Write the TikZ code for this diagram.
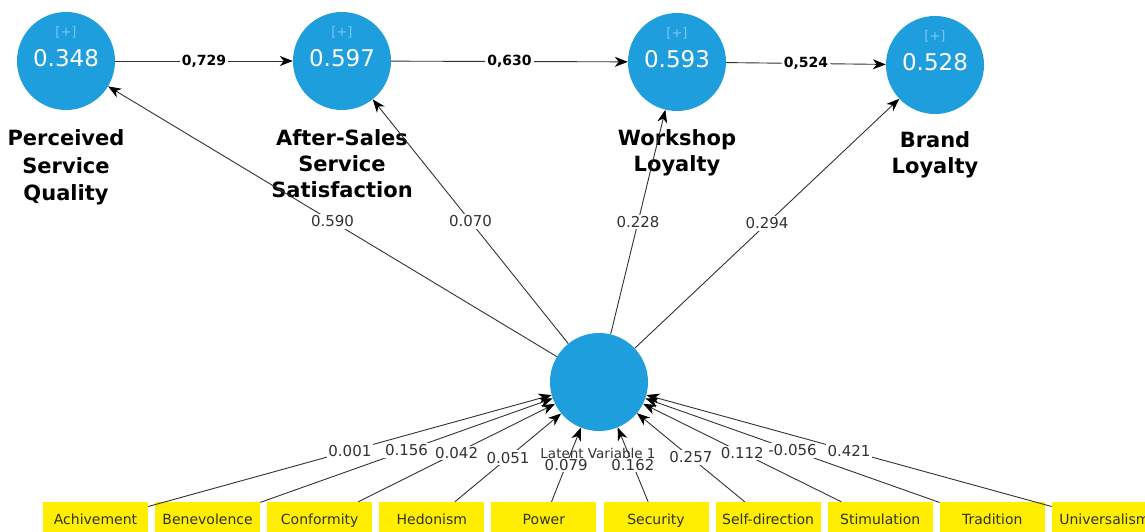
\documentclass[tikz,border=0pt]{standalone}
\usepackage{fontspec}
\setmainfont{DejaVu Sans}
\usetikzlibrary{arrows.meta}
\definecolor{lvblue}{RGB}{30,158,220}
\definecolor{plusblue}{RGB}{125,200,245}
\definecolor{boxyellow}{RGB}{255,238,0}
\definecolor{txtgray}{RGB}{50,50,50}
\begin{document}
\begin{tikzpicture}[x=1pt,y=-1pt,
 lv/.style={circle,fill=lvblue,minimum size=98pt,inner sep=0pt},
 val/.style={text=white,inner sep=0pt,font=\fontsize{23}{23}\selectfont},
 plus/.style={text=plusblue,inner sep=0pt,font=\fontsize{13}{13}\selectfont},
 title/.style={align=center,anchor=north,inner sep=0pt,font=\bfseries\fontsize{21}{26}\selectfont},
 ind/.style={rectangle,fill=boxyellow,minimum width=105pt,minimum height=38pt,inner sep=0pt,text height=10.5pt,text depth=3pt,text=txtgray,font=\fontsize{14}{14}\selectfont},
 conn/.style={draw=txtgray,line width=0.9pt,-{Stealth[length=13pt,width=10pt,inset=4pt,color=black,fill=black]}},
 wlab/.style={fill=white,inner sep=1.5pt,text=txtgray,font=\fontsize{15}{15}\selectfont},
 plab/.style={fill=white,inner sep=2pt,text=black,font=\bfseries\fontsize{14}{14}\selectfont},
 lvname/.style={text=txtgray,inner sep=0pt,font=\fontsize{13.5}{13.5}\selectfont},
]
\useasboundingbox (0,0) rectangle (1145,532);
\clip (0,0) rectangle (1145,532);
\fill[white] (0,0) rectangle (1145,532);

% latent variables
\node[lv] (psq) at (66,61) {};
\node[lv] (ass) at (342,61) {};
\node[lv] (wl) at (677,62) {};
\node[lv] (bl) at (935,65) {};
\node[lv] (lat) at (599,382) {};

\node[val] (psqv) at (66,58) {0.348};
\node[val] (assv) at (342,58) {0.597};
\node[val] (wlv) at (677,59) {0.593};
\node[val] (blv) at (935,62) {0.528};
\node[plus] (psqp) at (66,32) {[+]};
\node[plus] (assp) at (342,32) {[+]};
\node[plus] (wlp) at (677,33) {[+]};
\node[plus] (blp) at (935,36) {[+]};

\node[title,font=\bfseries\fontsize{21}{27.5}\selectfont] (psqt) at (66,129.5) {Perceived\\Service\\Quality};
\node[title] (asst) at (342,129.5) {After-Sales\\Service\\Satisfaction};
\node[title] (wlt) at (677,129.5) {Workshop\\Loyalty};
\node[title] (blt) at (935,131.5) {Brand\\Loyalty};

% structural paths
\draw[conn] (psq) -- node[plab]{0,729} (ass);
\draw[conn] (ass) -- node[plab]{0,630} (wl);
\draw[conn] (wl) -- node[plab]{0,524} (bl);

\draw[conn] (lat) -- node[wlab]{0.590} (psq);
\draw[conn] (lat) -- node[wlab]{0.070} (ass);
\draw[conn] (lat) -- node[wlab]{0.228} (wl);
\draw[conn] (lat) -- node[wlab]{0.294} (bl);

% indicators
\foreach \nm/\txt [count=\i from 0] in {ach/Achivement,ben/Benevolence,con/Conformity,hed/Hedonism,pow/Power,sec/Security,sdi/Self-direction,sti/Stimulation,tra/Tradition,uni/Universalism}
  \node[ind] (\nm) at ({95.5+112.1*\i},521) {\txt};

\draw[conn] (ach) -- node[wlab]{0.001} (lat);
\draw[conn] (ben) -- node[wlab]{0.156} (lat);
\draw[conn] (con) -- node[wlab]{0.042} (lat);
\draw[conn] (hed) -- node[wlab]{0.051} (lat);
\draw[conn] (pow) -- node[wlab]{0.079} (lat);
\draw[conn] (sec) -- node[wlab]{0.162} (lat);
\draw[conn] (sdi) -- node[wlab]{0.257} (lat);
\draw[conn] (sti) -- node[wlab]{0.112} (lat);
\draw[conn] (tra) -- node[wlab]{-0.056} (lat);
\draw[conn] (uni) -- node[wlab]{0.421} (lat);

\node[lvname] (latn) at (598,453) {Latent Variable 1};
\end{tikzpicture}
\end{document}
